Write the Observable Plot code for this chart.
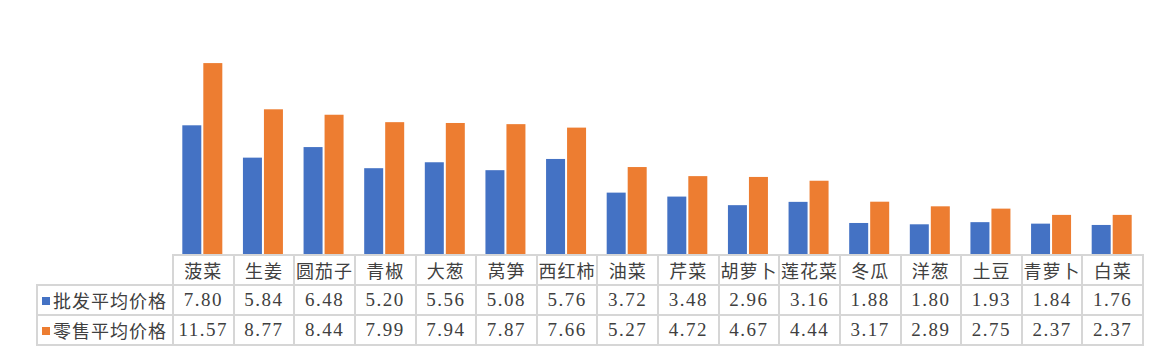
<!DOCTYPE html>
<html>
<head>
<meta charset="utf-8">
<script src="https://cdn.jsdelivr.net/npm/d3@7"></script>
<script src="https://cdn.jsdelivr.net/npm/@observablehq/plot@0.6"></script>
<style>
  html, body { margin: 0; padding: 0; background: #fff; }
  #wrap { position: relative; width: 1165px; height: 359px; overflow: hidden; }
  #chart { position: absolute; left: 0; top: 0; }
  table { position: absolute; left: 36px; top: 254px; border-collapse: collapse; table-layout: fixed;
          font-family: "Liberation Serif", "Noto Sans CJK SC", serif; font-size: 18px; color: #404040; }
  td { border: 2px solid #d6d6d6; height: 28px; padding: 0; text-align: center; white-space: nowrap; overflow: hidden; letter-spacing: 1px; }
  td.num { letter-spacing: 1.5px; font-size: 19px; }
  td.corner { border-top: hidden; border-left: hidden; }
  td.rowlab { text-align: left; padding-left: 4px; }
  .key { display: inline-block; width: 8px; height: 8px; margin-right: 3px; vertical-align: 3px; }
</style>
</head>
<body>
<div id="wrap"><div id="chart"></div></div>
<script>
const categories = ["菠菜","生姜","圆茄子","青椒","大葱","莴笋","西红柿","油菜","芹菜","胡萝卜","莲花菜","冬瓜","洋葱","土豆","青萝卜","白菜"];
const seriesNames = ["批发平均价格","零售平均价格"];
const wholesale = [7.80,5.84,6.48,5.20,5.56,5.08,5.76,3.72,3.48,2.96,3.16,1.88,1.80,1.93,1.84,1.76];
const retail = [11.57,8.77,8.44,7.99,7.94,7.87,7.66,5.27,4.72,4.67,4.44,3.17,2.89,2.75,2.37,2.37];
const colors = ["#4472C4","#ED7D31"];
const seriesValues = [wholesale, retail];

const W = 1165, mL = 172, mR = 23;
const colW = (W - mL - mR) / categories.length;
const barW = 19, gap = 2;
const outer = (colW - 2 * barW - gap) / 2;

const chart = Plot.plot({
  width: W,
  height: 254,
  marginLeft: mL,
  marginRight: mR,
  marginTop: 23,
  marginBottom: 0,
  x: {domain: categories, padding: 0, round: false, axis: null},
  y: {domain: [0, 14], axis: null},
  marks: [
    Plot.barY(categories, {x: d => d, y: (d, i) => wholesale[i], fill: colors[0],
      insetLeft: outer, insetRight: outer + barW + gap}),
    Plot.barY(categories, {x: d => d, y: (d, i) => retail[i], fill: colors[1],
      insetLeft: outer + barW + gap, insetRight: outer})
  ]
});
document.getElementById("chart").appendChild(chart);

// data table
const table = document.createElement("table");
const colgroup = document.createElement("colgroup");
const c0 = document.createElement("col"); c0.style.width = (mL - 36) + "px"; colgroup.appendChild(c0);
categories.forEach(() => { const c = document.createElement("col"); c.style.width = colW + "px"; colgroup.appendChild(c); });
table.appendChild(colgroup);
table.style.width = (W - mR - 36) + "px";

const hdr = document.createElement("tr");
const corner = document.createElement("td"); corner.className = "corner"; hdr.appendChild(corner);
categories.forEach(c => { const td = document.createElement("td"); td.textContent = c; hdr.appendChild(td); });
table.appendChild(hdr);

seriesNames.forEach((s, j) => {
  const tr = document.createElement("tr");
  const lab = document.createElement("td"); lab.className = "rowlab";
  const key = document.createElement("span"); key.className = "key"; key.style.background = colors[j];
  lab.appendChild(key); lab.appendChild(document.createTextNode(s));
  tr.appendChild(lab);
  seriesValues[j].forEach(v => { const td = document.createElement("td"); td.className = "num"; td.textContent = v.toFixed(2); tr.appendChild(td); });
  table.appendChild(tr);
});
document.getElementById("wrap").appendChild(table);
</script>
</body>
</html>
